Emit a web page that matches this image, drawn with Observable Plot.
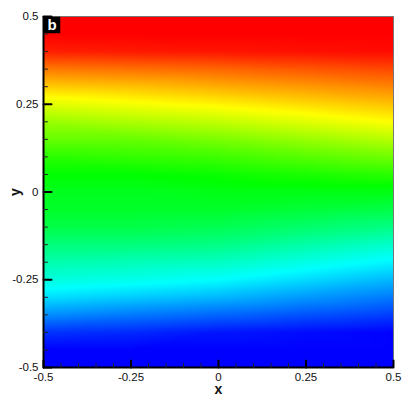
<!DOCTYPE html>
<html>
<head>
<meta charset="utf-8">
<script src="https://cdn.jsdelivr.net/npm/d3@7"></script>
<script src="https://cdn.jsdelivr.net/npm/@observablehq/plot@0.6"></script>
<style>
  html, body { margin: 0; padding: 0; background: #fff; }
  #chart { width: 415px; height: 401px; }
</style>
</head>
<body>
<div id="chart"></div>
<script>
// Sample positions of the field
const xCols = [-0.5, -0.25, 0, 0.25, 0.5];
const yRows = [0.5, 0.45, 0.4, 0.35, 0.3, 0.25, 0.2, 0.15, 0.1, 0.05, 0, -0.05, -0.1, -0.15, -0.2, -0.25, -0.3, -0.35, -0.4, -0.45, -0.5];
// Normalised field value (0 = blue, 0.25 = cyan, 0.5 = green, 0.75 = yellow, 1 = red), one array per column
const colXm050 = [1, 1, 0.97, 0.88, 0.8, 0.72, 0.65, 0.6, 0.54, 0.5, 0.47, 0.46, 0.43, 0.38, 0.33, 0.285, 0.22, 0.14, 0.05, 0, 0];
const colXm025 = [1, 1, 0.975, 0.89, 0.81, 0.74, 0.67, 0.6, 0.55, 0.5, 0.47, 0.46, 0.43, 0.38, 0.32, 0.27, 0.2, 0.12, 0.04, 0, 0];
const colX000  = [1, 1, 0.98, 0.9, 0.83, 0.76, 0.69, 0.62, 0.56, 0.51, 0.48, 0.46, 0.42, 0.37, 0.31, 0.25, 0.18, 0.1, 0.02, 0, 0];
const colXp025 = [1, 1, 0.985, 0.915, 0.85, 0.785, 0.72, 0.65, 0.585, 0.525, 0.48, 0.445, 0.395, 0.335, 0.275, 0.215, 0.15, 0.08, 0.01, 0, 0];
const colXp050 = [1, 1, 0.99, 0.93, 0.87, 0.81, 0.75, 0.68, 0.61, 0.54, 0.48, 0.43, 0.37, 0.3, 0.24, 0.18, 0.12, 0.06, 0, 0, 0];
const columns = [colXm050, colXm025, colX000, colXp025, colXp050];

// Axis ticks
const majorTicks = [-0.5, -0.25, 0, 0.25, 0.5];
const minorTicks = d3.range(-10, 11).map(i => i * 0.05).filter(t => !majorTicks.some(m => Math.abs(m - t) < 1e-9));
const tickLabels = ["-0.5", "-0.25", "0", "0.25", "0.5"];
const panelLabel = "b";

// Build sample table
const samples = [];
xCols.forEach((x, i) => yRows.forEach((y, j) => samples.push({x, y, v: columns[i][j]})));

const fmt = t => tickLabels[majorTicks.findIndex(m => Math.abs(m - t) < 1e-9)];

// plain line shape for inward tick vectors
const tickShape = {draw(context, l) { context.moveTo(0, 0); context.lineTo(0, -l); }};

const chart = Plot.plot({
  width: 415,
  height: 401,
  marginTop: 16,
  marginRight: 22,
  marginBottom: 34,
  marginLeft: 43,
  style: {fontFamily: "'Liberation Sans', Arial, sans-serif", fontSize: "12px", background: "#fff", color: "#111"},
  x: {domain: [-0.5, 0.5], axis: null},
  y: {domain: [-0.5, 0.5], axis: null},
  color: {
    type: "linear",
    domain: [0, 0.25, 0.5, 0.75, 1],
    range: ["#0000ff", "#00ffff", "#00ff00", "#ffff00", "#ff0000"],
    interpolate: "rgb",
    clamp: true
  },
  marks: [
    Plot.raster(samples, {x: "x", y: "y", fill: "v", interpolate: "barycentric", x1: -0.5, x2: 0.5, y1: -0.5, y2: 0.5}),
    // frame: gray top/right, black left/bottom
    Plot.ruleY([0.5], {stroke: "#777", strokeWidth: 1}),
    Plot.ruleX([0.5], {stroke: "#777", strokeWidth: 1}),
    Plot.ruleX([-0.5], {stroke: "#000", strokeWidth: 2}),
    Plot.ruleY([-0.5], {stroke: "#000", strokeWidth: 2}),
    // inward ticks
    Plot.vector(majorTicks, {x: d => d, frameAnchor: "bottom", length: 7, rotate: 0, anchor: "start", shape: tickShape, stroke: "#000", strokeWidth: 2}),
    Plot.vector(minorTicks, {x: d => d, frameAnchor: "bottom", length: 4, rotate: 0, anchor: "start", shape: tickShape, stroke: "#222", strokeWidth: 1}),
    Plot.vector(majorTicks, {y: d => d, frameAnchor: "left", length: 8, rotate: 90, anchor: "start", shape: tickShape, stroke: "#000", strokeWidth: 2}),
    Plot.vector(minorTicks, {y: d => d, frameAnchor: "left", length: 4, rotate: 90, anchor: "start", shape: tickShape, stroke: "#222", strokeWidth: 1}),
    // tick labels
    Plot.axisX({ticks: majorTicks, anchor: "bottom", tickFormat: fmt, tickSize: 0, tickPadding: 5, fontSize: 11.5, stroke: "none", fill: "#111", label: null}),
    Plot.axisY({ticks: majorTicks, anchor: "left", tickFormat: fmt, tickSize: 0, tickPadding: 5, fontSize: 11.5, stroke: "none", fill: "#111", label: null}),
    // axis titles
    Plot.text(["x"], {frameAnchor: "bottom", dy: 22.5, text: d => d, textAnchor: "middle", lineAnchor: "middle", fontWeight: "bold", fontSize: 14}),
    Plot.text(["y"], {frameAnchor: "left", dx: -28, rotate: -90, text: d => d, textAnchor: "middle", lineAnchor: "middle", fontWeight: "bold", fontSize: 14}),
    // panel label
    Plot.dot([panelLabel], {frameAnchor: "top-left", dx: 8.5, dy: 8.5, symbol: "square", r: 9.3, fill: "#000", stroke: null}),
    Plot.text([panelLabel], {frameAnchor: "top-left", dx: 8.5, dy: 8.5, text: d => d, textAnchor: "middle", lineAnchor: "middle", fill: "#fff", fontWeight: "bold", fontSize: 15})
  ]
});

document.getElementById("chart").appendChild(chart);
</script>
</body>
</html>
